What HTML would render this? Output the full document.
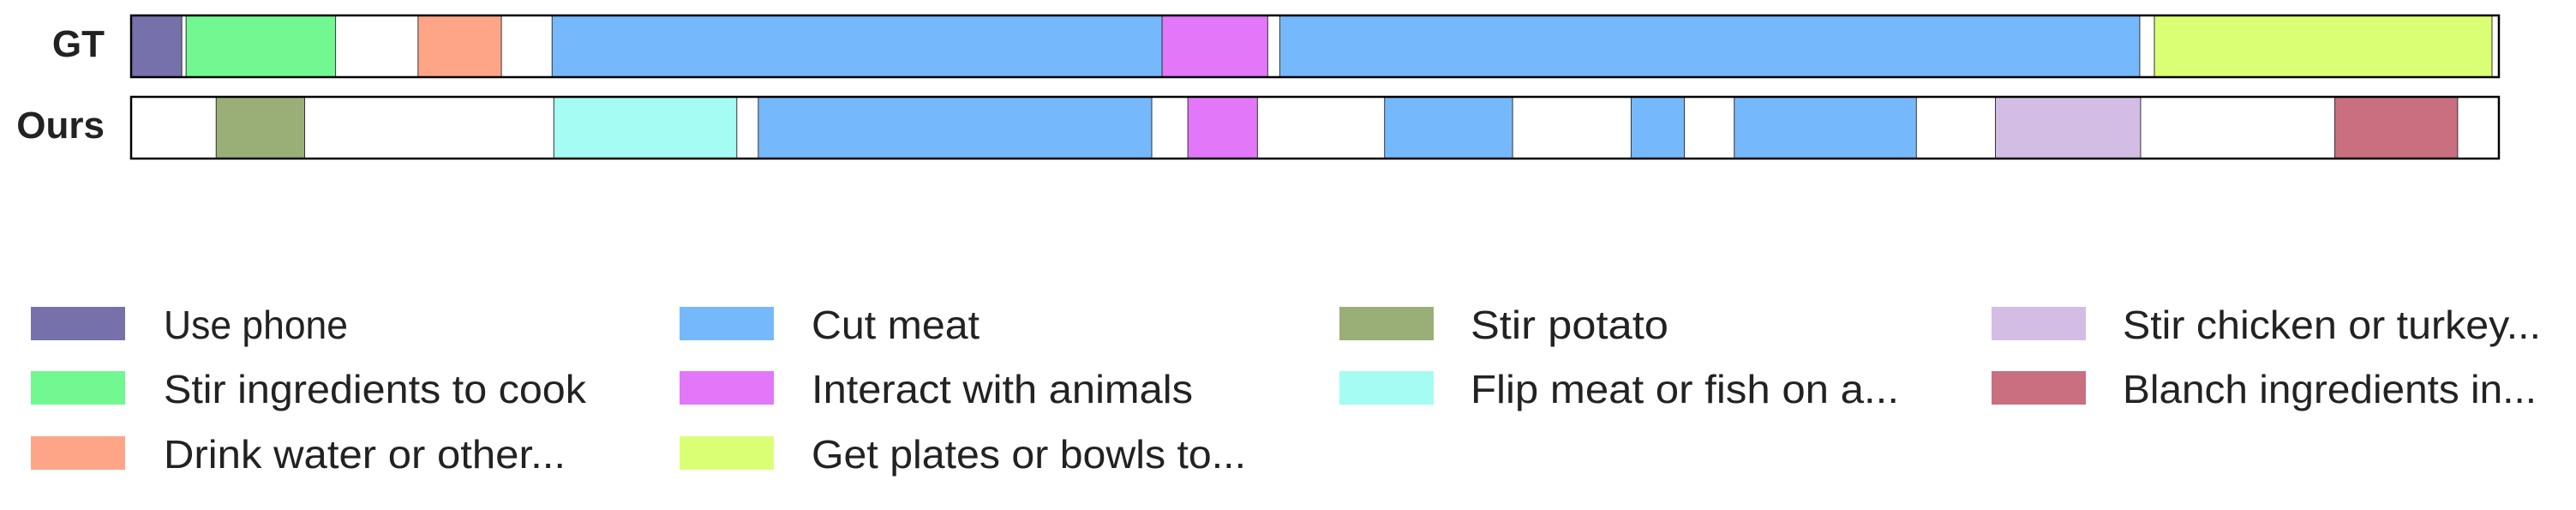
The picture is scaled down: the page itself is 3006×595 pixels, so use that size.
<!DOCTYPE html>
<html><head><meta charset="utf-8"><style>
html,body{margin:0;padding:0;background:#fff;}
svg{display:block;}
</style></head><body>
<svg id="chart" width="3006" height="595" viewBox="0 0 3006 595" xmlns="http://www.w3.org/2000/svg"></svg>
<script>
const NS='http://www.w3.org/2000/svg';
// Timeline data (time units 0..2756)
const actionNames=['Use phone','Stir ingredients to cook','Drink water or other...','Cut meat','Interact with animals','Get plates or bowls to...','Stir potato','Flip meat or fish on a...','Stir chicken or turkey...','Blanch ingredients in...'];
const actionColors=['#7671aa','#72f890','#fea588','#75b9fc','#e277f9','#dbff74','#9aaf77','#a4fcf2','#d3bde4','#c96f80'];
const rowNames=['GT','Ours'];
const gtStart=[0,64,334,490,1200,1337,2355];
const gtEnd=[59,238,431,1200,1323,2338,2748];
const gtAction=[0,1,2,3,4,3,5];
const oursStart=[99,492,730,1230,1459,1746,1866,2170,2565];
const oursEnd=[202,705,1188,1311,1608,1808,2078,2339,2708];
const oursAction=[6,7,3,4,3,3,3,8,9];
const tMax=2756;
const x0=153,x1=2916;
function xs(t){return x0+(t/tMax)*(x1-x0);}
const rowTop=[18,113],rowH=72;
const svg=document.getElementById('chart');
function mk(tag,attrs){const e=document.createElementNS(NS,tag);for(const k in attrs)e.setAttribute(k,attrs[k]);svg.appendChild(e);return e;}
const rows=[[gtStart,gtEnd,gtAction],[oursStart,oursEnd,oursAction]];
rows.forEach((r,ri)=>{
  const y=rowTop[ri];
  const bg=mk('rect',{x:x0,y:y,width:x1-x0,height:rowH,fill:'#fff'});
  
  
  for(let i=0;i<r[0].length;i++){
    const a=xs(r[0][i]),b=xs(r[1][i]);
    const s=mk('rect',{x:a,y:y,width:b-a,height:rowH,fill:actionColors[r[2][i]],stroke:'#333','stroke-width':1});
    
    
  }
  const fr=mk('rect',{x:x0,y:y,width:x1-x0,height:rowH,fill:'none',stroke:'#000','stroke-width':2.5});
  
  
  const t=mk('text',{x:122,y:y+48,'text-anchor':'end','font-family':'Liberation Sans, sans-serif','font-weight':'bold','font-size':44,fill:'#222'});
  t.textContent=rowNames[ri];
  
  
});
// Legend
const legCol=[[36,191],[793,947],[1563,1716],[2324,2477]];
const legRowY=[358,433,509];
const legW=[215,493,469,196,445,507,231,500,488,483];
const legPos=[[0,0],[0,1],[0,2],[1,0],[1,1],[1,2],[2,0],[2,1],[3,0],[3,1]];
actionNames.forEach((n,i)=>{
  const [c,r]=legPos[i];
  const sw=mk('rect',{x:legCol[c][0],y:legRowY[r],width:110,height:39,fill:actionColors[i]});
  
  
  const t=mk('text',{x:legCol[c][1],y:legRowY[r]+37,'font-family':'Liberation Sans, sans-serif','font-size':46,fill:'#222',textLength:legW[i],lengthAdjust:'spacingAndGlyphs'});
  t.textContent=n;
  
  
});
</script>
</body></html>
